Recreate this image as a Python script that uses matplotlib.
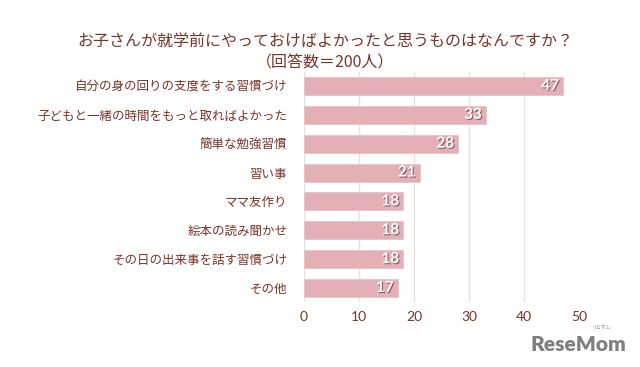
import matplotlib
matplotlib.use("Agg")
import matplotlib.pyplot as plt
import matplotlib.patheffects as pe

plt.rcParams['font.family'] = ['Noto Sans CJK JP', 'DejaVu Sans']

# ---------- DATA ----------
categories = [
    "自分の身の回りの支度をする習慣づけ",
    "子どもと一緒の時間をもっと取ればよかった",
    "簡単な勉強習慣",
    "習い事",
    "ママ友作り",
    "絵本の読み聞かせ",
    "その日の出来事を話す習慣づけ",
    "その他",
]
counts = [47, 33, 28, 21, 18, 18, 18, 17]
xticks = [0, 10, 20, 30, 40, 50]
title = "お子さんが就学前にやっておけばよかったと思うものはなんですか？\n（回答数＝200人）"

BAR = '#e3b0b8'
TEXT = '#7a3328'
GRID = '#f0dede'

fig = plt.figure(figsize=(6.4, 3.67), dpi=100)
ax = fig.add_axes([0.475, 0.176, 0.43, 0.629])

ypos = list(range(len(categories)))
ax.barh(ypos, counts, height=0.62, color=BAR, edgecolor='#eac3c9', linewidth=0.6, zorder=2)
ax.set_ylim(len(categories) - 0.5, -0.5)
ax.set_xlim(0, 50)
ax.set_yticks(ypos)
ax.set_yticklabels(categories, fontsize=9, color=TEXT)
ax.set_xticks(xticks)
ax.set_xticklabels([str(t) for t in xticks], fontsize=10, color=TEXT, family=['Lato', 'DejaVu Sans'])
ax.tick_params(length=0, axis='y', pad=12)
ax.tick_params(length=0, axis='x', pad=6)
for s in ax.spines.values():
    s.set_visible(False)
ax.xaxis.grid(True, color=GRID, linewidth=1, zorder=0)
ax.set_axisbelow(True)

shadow = [pe.SimplePatchShadow(offset=(0.8, -0.8), shadow_rgbFace='#6a3a3a', alpha=0.7), pe.Normal()]
for y, v in zip(ypos, counts):
    ax.text(v - 0.7, y, str(v), ha='right', va='center', color='white', fontsize=11,
            fontweight='bold', family=['Lato', 'DejaVu Sans'], path_effects=shadow, zorder=3)

fig.text(0.508, 0.858, title, ha='center', va='center', fontsize=11.5, color=TEXT, linespacing=1.4)

# logo
fig.text(0.978, 0.06, "ReseMom", ha='right', va='center', fontsize=15, fontweight='heavy',
         color='#7f7f7f', family=['Lato', 'DejaVu Sans'])
fig.text(0.955, 0.108, "リセマム", ha='right', va='center', fontsize=3.5, color='#8a8a8a')

fig.savefig("out.png", dpi=100)
